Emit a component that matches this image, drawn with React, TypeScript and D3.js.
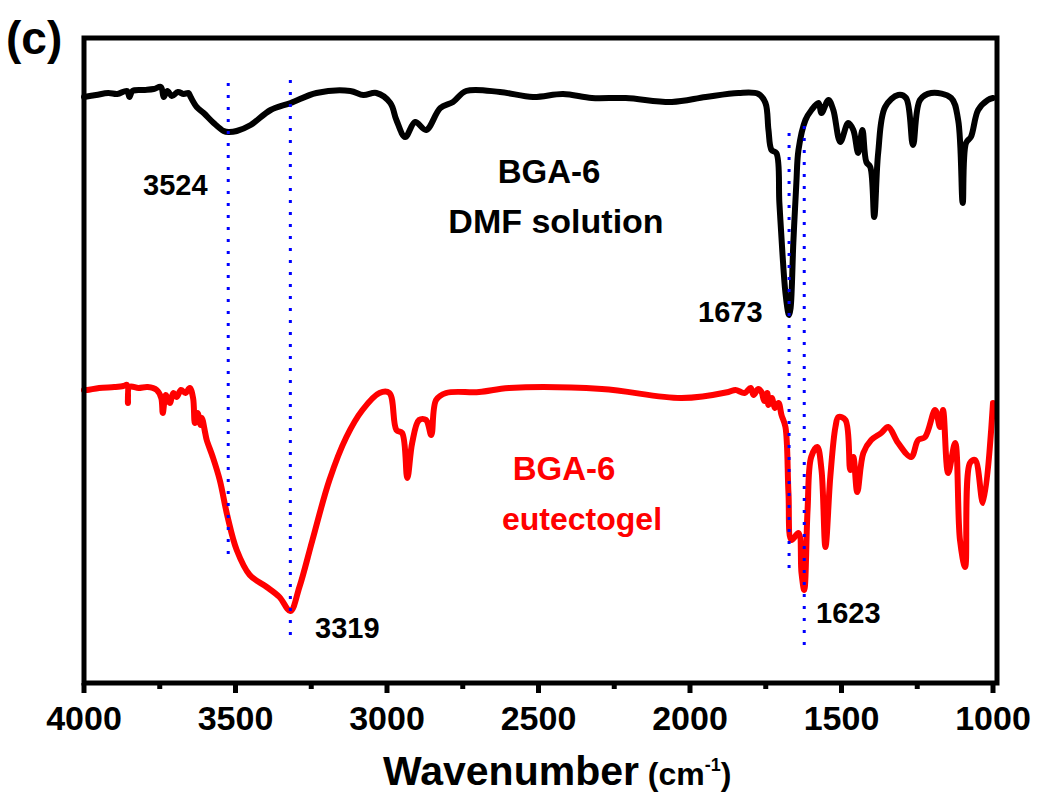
import React from "react";
import * as d3 from "d3";

// Wavenumber (cm-1) and transmittance (a.u.)
const dmfWavenumber = [4000,3960,3920,3890,3858,3850,3840,3800,3770,3746,3737,3725,3710,3690,3671,3655,3648,3628,3605,3572,3539,3523,3496,3450,3384,3318,3233,3121,3078,3035,2989,2969,2940,2907,2871,2824,2782,2739,2627,2518,2419,2324,2212,2060,1948,1840,1774,1751,1741,1731,1715,1705,1695,1685,1675,1673,1668,1659,1649,1642,1619,1599,1576,1566,1543,1527,1504,1478,1461,1445,1431,1418,1405,1392,1379,1356,1313,1287,1264,1241,1204,1138,1115,1100,1089,1073,1049,1017,1000];
const dmfValue = [58.6,58.8,59.0,58.9,59.2,58.6,59.2,59.3,59.4,59.6,58.6,59.2,58.7,59.1,58.9,59.0,58.6,57.6,57.0,56.0,55.2,55.1,55.2,55.8,57.3,58.0,59.0,59.2,58.8,59.0,58.0,56.3,54.6,56.1,55.3,57.5,58.1,59.2,59.1,58.6,58.9,58.5,58.5,58.1,58.6,59.0,58.9,58.0,55.3,53.3,53.0,48.0,43.0,39.0,36.9,36.8,37.5,44.0,50.0,53.3,56.3,57.3,58.0,57.0,58.3,57.3,54.1,56.0,55.3,53.0,55.3,52.1,51.6,46.6,53.0,57.6,58.8,58.5,53.8,58.3,59.0,58.5,56.3,48.0,54.0,54.6,57.3,58.3,58.5];

const gelWavenumber = [4000,3990,3950,3900,3870,3858,3855,3850,3820,3790,3760,3745,3740,3730,3717,3705,3694,3680,3665,3651,3640,3634,3625,3615,3611,3600,3595,3575,3552,3526,3496,3453,3397,3355,3319,3289,3246,3190,3134,3081,3025,2992,2969,2950,2933,2917,2894,2871,2854,2838,2805,2696,2597,2291,2028,1873,1850,1820,1800,1790,1775,1764,1755,1745,1741,1730,1720,1708,1698,1685,1675,1665,1642,1632,1623,1612,1600,1580,1566,1553,1537,1520,1510,1487,1471,1461,1448,1428,1402,1369,1346,1313,1270,1247,1224,1191,1175,1165,1148,1125,1109,1092,1076,1059,1033,1000];
const gelValue = [29.3,29.3,29.5,29.6,29.7,29.8,28.0,29.6,29.5,29.6,29.3,28.5,27.0,28.8,28.0,29.0,28.6,29.3,29.0,29.5,28.5,26.0,27.0,25.8,26.5,25.0,24.3,22.6,20.3,16.6,13.3,10.8,9.6,8.6,7.2,9.6,14.3,20.3,24.6,27.3,29.0,29.0,25.3,25.0,20.5,24.0,26.3,26.3,24.8,28.3,29.0,29.1,29.5,29.4,28.5,29.1,29.3,29.0,29.5,28.8,29.4,29.1,28.2,29.0,27.8,28.5,27.5,28.0,26.8,25.6,19.0,14.3,15.0,11.0,9.3,17.3,22.6,23.6,21.3,13.6,20.6,25.6,26.6,26.3,21.3,22.6,19.1,23.0,24.3,25.0,25.6,24.0,22.6,24.3,24.6,27.3,25.6,27.3,21.0,24.0,14.3,11.6,22.0,22.3,18.0,28.0];

const xTicks = [4000,3500,3000,2500,2000,1500,1000];
const xMinorTicks = [3750,3250,2750,2250,1750,1250];

const markerLines = [
  { wn: 3524, top: 60.0, bottom: 12.8 },
  { wn: 3319, top: 60.3, bottom: 4.3 },
  { wn: 1673, top: 55.0, bottom: 11.1 },
  { wn: 1623, top: 55.7, bottom: 3.3 },
];

const FONT = "'Liberation Sans', Arial, Helvetica, sans-serif";

export default function App() {
  const left = 84, right = 993, top = 38, bottom = 683;
  const x = d3.scaleLinear().domain([4000, 1000]).range([left, right]);
  const y = d3.scaleLinear().domain([0, 64.5]).range([bottom, top]);

  const mk = (ws: number[], vs: number[]) =>
    d3
      .line<number>()
      .x((w) => x(w))
      .y((_, i) => y(vs[i]))
      .curve(d3.curveCatmullRom.alpha(0.5))(ws) || "";

  const dmfPath = mk(dmfWavenumber, dmfValue);
  const gelPath = mk(gelWavenumber, gelValue);

  return (
    <svg
      width={1037}
      height={794}
      style={{ position: "absolute", left: 0, top: 0, background: "#fff" }}
      fontFamily={FONT}
    >
      <rect x={0} y={0} width={1037} height={794} fill="#fff" />
      {/* spectra */}
      <path d={dmfPath} fill="none" stroke="#000" strokeWidth={6} strokeLinejoin="round" strokeLinecap="round" />
      <path d={gelPath} fill="none" stroke="#ff0000" strokeWidth={6} strokeLinejoin="round" strokeLinecap="round" />

      {/* dotted markers */}
      {markerLines.map((m) => (
        <line
          key={m.wn}
          x1={x(m.wn)}
          x2={x(m.wn)}
          y1={y(m.top)}
          y2={y(m.bottom)}
          stroke="#0000ff"
          strokeWidth={3}
          strokeDasharray="3 9"
        />
      ))}

      {/* frame */}
      <rect x={left} y={top} width={997 - left} height={bottom - top} fill="none" stroke="#000" strokeWidth={5} />

      {/* ticks */}
      {xTicks.map((t) => (
        <line key={"M" + t} x1={x(t)} x2={x(t)} y1={bottom} y2={bottom + 10} stroke="#000" strokeWidth={5} />
      ))}
      {xMinorTicks.map((t) => (
        <line key={"m" + t} x1={x(t)} x2={x(t)} y1={bottom} y2={bottom + 6} stroke="#000" strokeWidth={5} />
      ))}
      {xTicks.map((t) => (
        <text key={"L" + t} x={x(t)} y={730} textAnchor="middle" fontSize={34} fontWeight="bold" fill="#000">
          {t}
        </text>
      ))}

      {/* axis title */}
      <text x={383} y={785} fontWeight="bold" fill="#000" fontSize={41}>
        <tspan>Wavenumber</tspan>
        <tspan fontSize={32}> (cm</tspan>
        <tspan fontSize={18} dy={-14}>-1</tspan>
        <tspan fontSize={32} dy={14}>)</tspan>
      </text>

      {/* panel label */}
      <text x={6} y={54} fontSize={46} fontWeight="bold" fill="#000">(c)</text>

      {/* peak labels */}
      <text x={143} y={195} fontSize={29} fontWeight="bold" fill="#000">3524</text>
      <text x={315} y={638} fontSize={29} fontWeight="bold" fill="#000">3319</text>
      <text x={698} y={322} fontSize={29} fontWeight="bold" fill="#000">1673</text>
      <text x={816} y={623} fontSize={29} fontWeight="bold" fill="#000">1623</text>

      {/* sample labels */}
      <text x={549} y={183} textAnchor="middle" fontSize={33} fontWeight="bold" fill="#000">BGA-6</text>
      <text x={556} y={233} textAnchor="middle" fontSize={34} fontWeight="bold" fill="#000">DMF solution</text>
      <text x={564} y={480} textAnchor="middle" fontSize={33} fontWeight="bold" fill="#ff0000">BGA-6</text>
      <text x={582} y={530} textAnchor="middle" fontSize={32} fontWeight="bold" fill="#ff0000">eutectogel</text>
    </svg>
  );
}
